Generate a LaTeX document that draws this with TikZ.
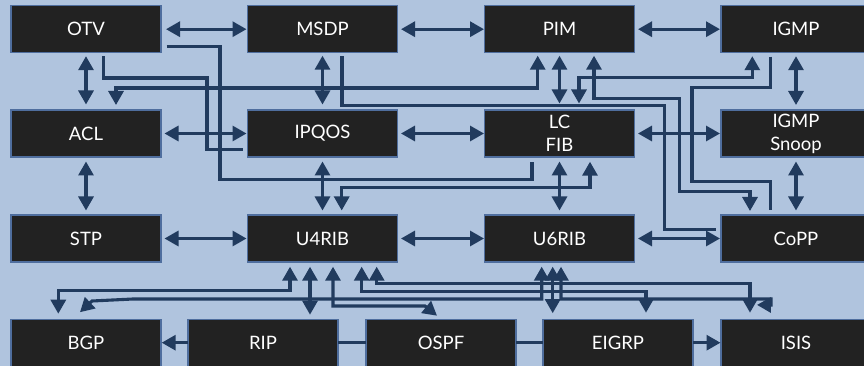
\documentclass[tikz,border=0pt]{standalone}
\usepackage{fontspec}
\setmainfont{Lato}
\usetikzlibrary{arrows.meta,calc}
\definecolor{bg}{RGB}{176,196,222}
\definecolor{boxfill}{RGB}{34,34,34}
\definecolor{boxline}{RGB}{79,110,158}
\definecolor{conn}{RGB}{33,59,94}
\begin{document}
\begin{tikzpicture}[x=1pt,y=-1pt,
  box/.style={draw=boxline, line width=1.2pt, fill=boxfill, text=white,
    minimum width=150pt, minimum height=47pt, inner sep=0pt, outer sep=0pt,
    align=center, font=\fontsize{18.5}{23}\selectfont},
  link/.style={draw=conn, line width=3.1pt},
  tri/.tip={Triangle[length=14pt,width=15pt]},
  dbl/.style={link, tri-tri},
  sgl/.style={link, -tri}]
\fill[bg] (0,0) rectangle (864,366);
\useasboundingbox (0,0) rectangle (864,366);
% boxes
\node[box] (otv)   at (86,29.2)   {OTV};
\node[box] (msdp)  at (322.5,29.2) {MSDP};
\node[box] (pim)   at (559.5,29.2) {PIM};
\node[box] (igmp)  at (796,29.2)  {IGMP};
\node[box] (acl)   at (86,133.5)  {ACL};
\node[box] (ipqos) at (322.5,133.5) {IPQOS};
\node[box] (lcfib) at (559.5,133.5) {LC\\FIB};
\node[box] (snoop) at (796,133.5) {IGMP\\Snoop};
\node[box] (stp)   at (86,238.5)  {STP};
\node[box] (u4rib) at (322.5,238.5) {U4RIB};
\node[box] (u6rib) at (559.5,238.5) {U6RIB};
\node[box] (copp)  at (796,238.5) {CoPP};
\node[box] (bgp)   at (86,342.7)  {BGP};
\node[box] (rip)   at (263,342.7) {RIP};
\node[box] (ospf)  at (441,342.7) {OSPF};
\node[box] (eigrp) at (618,342.7) {EIGRP};
\node[box] (isis)  at (796,342.7) {ISIS};
% horizontal double arrows
\draw[dbl] ($(otv.east)+(5,0)$) -- ($(msdp.west)+(-1,0)$);
\draw[dbl] ($(msdp.east)+(3.5,0)$) -- ($(pim.west)+(-0.5,0)$);
\draw[dbl] ($(pim.east)+(3.5,0)$) -- ($(igmp.west)+(-1,0)$);
\draw[dbl] ($(acl.east)+(3.5,0)$) -- ($(ipqos.west)+(-1,0)$);
\draw[dbl] ($(ipqos.east)+(3.5,0)$) -- ($(lcfib.west)+(-0.5,0)$);
\draw[dbl] ($(lcfib.east)+(3.5,0)$) -- ($(snoop.west)+(-1,0)$);
\draw[dbl] ($(stp.east)+(3.5,0)$) -- ($(u4rib.west)+(-1,0)$);
\draw[dbl] ($(u4rib.east)+(3.5,0)$) -- ($(u6rib.west)+(-0.5,0)$);
\draw[dbl] ($(u6rib.east)+(3.5,0)$) -- ($(copp.west)+(-1,0)$);
% vertical double arrows
\draw[dbl] ($(otv.south)+(0,3.5)$) -- ($(acl.north)+(0,-5.5)$);
\draw[dbl] ($(acl.south)+(0,4.5)$) -- ($(stp.north)+(0,-4.5)$);
\draw[dbl] ($(msdp.south)+(0,3)$) -- ($(ipqos.north)+(0,-5.5)$);
\draw[dbl] ($(ipqos.south)+(0,4.5)$) -- ($(u4rib.north)+(0,-4.5)$);
\draw[dbl] ($(pim.south)+(0,3)$) -- ($(lcfib.north)+(0,-6.5)$);
\draw[dbl] ($(lcfib.south)+(0,4.5)$) -- ($(u6rib.north)+(0,-4.5)$);
\draw[dbl] ($(igmp.south)+(0,3.5)$) -- ($(snoop.north)+(0,-5)$);
\draw[dbl] ($(snoop.south)+(0,4.5)$) -- ($(copp.north)+(0,-4.5)$);
% elbow connectors, upper part
\draw[link] ($(otv.east)+(5.5,17.5)$) -| (220,179.5) -| ($(lcfib.south)+(-27.5,5)$);
\draw[link] ($(otv.south)+(17.3,3.8)$) |- (207,78) |- ($(ipqos.west)+(-4.5,16.2)$);
\draw[dbl] ($(acl.north)+(30,-5)$) |- (537.7,88) -- ($(pim.south)+(-21.8,3)$);
\draw[link] ($(msdp.south)+(19.5,3.5)$) |- (664.3,105.7) |- ($(copp.west)+(-5,-9.2)$);
\draw[dbl] ($(pim.south)+(34.5,3)$) |- (679.3,98.3) |- (750,191.7) -- ($(copp.north)+(-46,-4)$);
\draw[dbl] ($(igmp.south)+(-43.7,3.5)$) |- (579,77.3) -- ($(lcfib.north)+(19.5,-6.5)$);
\draw[link] ($(igmp.south)+(-25.5,4)$) |- (692,87.3) |- (770.5,181.7) -- ($(copp.north)+(-25.5,-5)$);
\draw[dbl] ($(lcfib.south)+(30.5,4.7)$) |- (341.7,187.3) -- ($(u4rib.north)+(19.2,-4.5)$);
% elbow connectors, lower part
\draw[dbl] ($(u4rib.south)+(-32.5,4.7)$) |- (58.3,290.5) -- ($(bgp.north)+(-27.7,-5.5)$);
\draw[dbl] ($(u4rib.south)+(-12.5,4.7)$) -- ($(rip.north)+(47,-4.5)$);
\draw[dbl] ($(u4rib.south)+(10.5,4.7)$) |- (425,306) -- ($(ospf.north)+(-4,-3.5)$);
\draw[dbl] ($(u4rib.south)+(39.2,4.7)$) |- (646,291.3) -- ($(eigrp.north)+(28,-6.5)$);
\draw[dbl] ($(u4rib.south)+(54.2,4.7)$) |- (750,283.5) -- ($(isis.north)+(-46,-6.5)$);
\draw[dbl] ($(u6rib.south)+(-17.8,4.7)$) |- (133,299) -- (92,301) -- ($(bgp.north)+(-6,-7)$);
\draw[dbl] ($(u6rib.south)+(-6.8,4.7)$) -- ($(eigrp.north)+(-65.3,-6)$);
\draw[dbl] ($(u6rib.south)+(1.5,4.7)$) |- (771,299) -- (771,305) -- ($(isis.north)+(-39,-14.3)$);
% bottom row
\draw[sgl] (rip.west) -- ($(bgp.east)+(0.7,0)$);
\draw[link] (rip.east) -- (ospf.west);
\draw[link] (ospf.east) -- (eigrp.west);
\draw[sgl] (eigrp.east) -- ($(isis.west)+(-0.5,0)$);
\end{tikzpicture}
\end{document}
